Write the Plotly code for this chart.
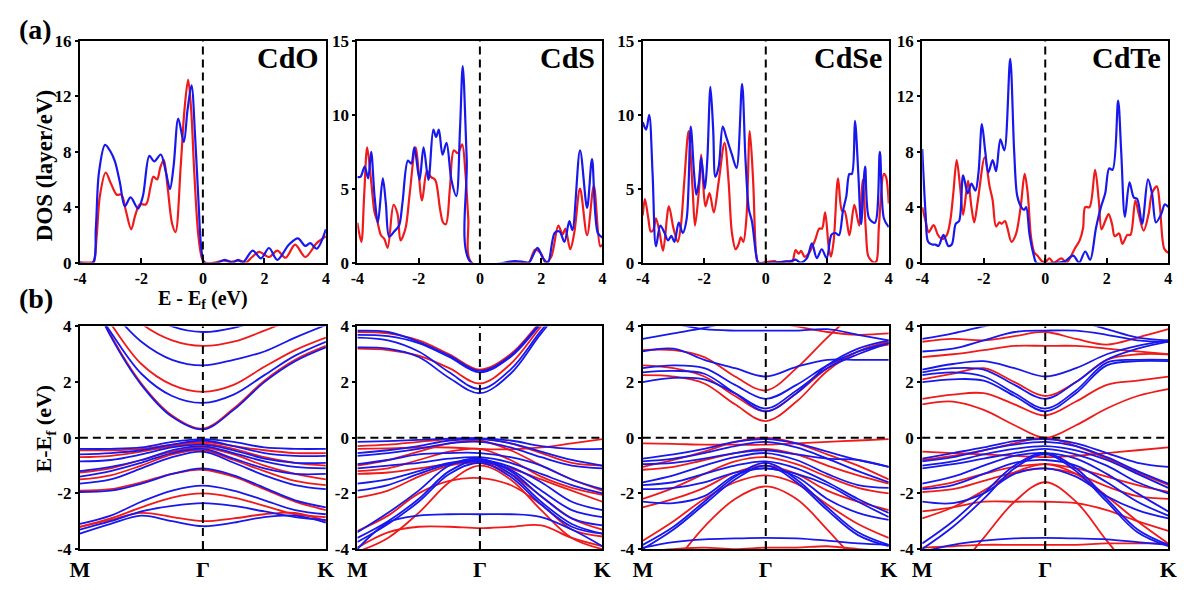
import plotly.graph_objects as go

# ---------------- DOS curves: (E - Ef [eV], DOS [layer/eV]) ----------------
cdo_dos_red = [(-4.0, 0), (-3.6, 0), (-3.55, 0.0), (-3.45, 2.0), (-3.35, 4.8), (-3.16, 6.5), (-2.99, 5.7),
               (-2.8, 4.9), (-2.65, 4.9), (-2.5, 3.7), (-2.33, 2.4), (-2.2, 3.4), (-2.05, 4.2), (-1.85, 4.2),
               (-1.7, 5.5), (-1.61, 6.2), (-1.49, 6.0), (-1.38, 6.9), (-1.27, 7.4), (-1.15, 5.5), (-1.0, 2.8),
               (-0.89, 2.2), (-0.72, 7.0), (-0.6, 11.0), (-0.48, 13.2), (-0.38, 11.0), (-0.28, 6.5),
               (-0.15, 2.0), (-0.03, 0.3), (0.05, 0.0), (0.4, 0.0), (0.66, 0.15), (0.9, 0.05), (1.2, 0.15),
               (1.4, 0.0), (1.6, 0.4), (1.83, 0.77), (2.15, 0.4), (2.42, 0.86), (2.69, 0.35), (3.0, 1.3),
               (3.33, 0.4), (3.7, 1.4), (4.0, 1.9)]
cdo_dos_blue = [(-4.0, 0), (-3.58, 0), (-3.48, 2.5), (-3.38, 6.5), (-3.18, 8.5), (-3.0, 8.0), (-2.86, 7.3),
                (-2.7, 5.8), (-2.54, 4.07), (-2.35, 4.7), (-2.11, 3.9), (-1.95, 4.8), (-1.74, 7.7),
                (-1.58, 7.3), (-1.37, 7.8), (-1.2, 6.5), (-1.07, 5.3), (-0.95, 7.0), (-0.8, 10.4),
                (-0.62, 8.7), (-0.5, 11.0), (-0.37, 12.8), (-0.25, 9.0), (-0.14, 4.3), (-0.05, 1.0),
                (0.05, 0.0), (0.5, 0.0), (0.71, 0.2), (0.98, 0.0), (1.14, 0.2), (1.3, 0.0), (1.62, 0.86),
                (1.89, 0.3), (2.15, 1.05), (2.42, 0.2), (2.8, 1.3), (3.09, 1.75), (3.33, 1.2), (3.49, 1.4),
                (3.7, 1.0), (4.0, 2.4)]

cds_dos_red = [(-4.0, 2.7), (-3.87, 1.4), (-3.78, 4.5), (-3.68, 7.8), (-3.55, 5.5), (-3.44, 3.4), (-3.35, 2.8),
               (-3.23, 1.85), (-3.12, 1.6), (-3.01, 1.0), (-2.82, 3.9), (-2.69, 3.3), (-2.59, 1.5),
               (-2.43, 2.3), (-2.29, 4.7), (-2.1, 7.8), (-1.89, 4.2), (-1.73, 6.2), (-1.6, 5.8), (-1.46, 5.6),
               (-1.3, 3.6), (-1.2, 2.7), (-1.11, 2.6), (-0.98, 5.0), (-0.85, 7.6), (-0.72, 7.4), (-0.58, 8.0),
               (-0.47, 6.0), (-0.38, 3.0), (-0.27, 0.0), (1.15, 0.0), (1.4, 0.05), (1.6, 0.0), (1.8, 0.87),
               (2.0, 0.6), (2.14, 0.0), (2.33, 0.4), (2.56, 2.5), (2.7, 1.9), (2.79, 2.3), (2.95, 0.9),
               (3.08, 2.0), (3.27, 5.0), (3.5, 1.85), (3.72, 5.2), (3.93, 1.1), (4.0, 1.2)]
cds_dos_blue = [(-4.0, 5.8), (-3.9, 5.8), (-3.76, 6.5), (-3.65, 5.7), (-3.55, 7.5), (-3.44, 4.5), (-3.33, 2.7),
                (-3.17, 5.7), (-3.07, 4.0), (-2.96, 1.75), (-2.8, 2.1), (-2.64, 2.5), (-2.53, 4.0),
                (-2.35, 6.9), (-2.24, 6.7), (-2.14, 7.8), (-1.97, 5.6), (-1.84, 7.8), (-1.68, 5.6),
                (-1.52, 9.0), (-1.43, 8.5), (-1.34, 9.0), (-1.22, 7.3), (-1.09, 8.1), (-0.93, 5.6),
                (-0.77, 4.5), (-0.65, 9.0), (-0.56, 13.3), (-0.43, 7.0), (-0.29, 0.0), (1.15, 0.1),
                (1.4, 0.05), (1.6, 0.0), (1.88, 1.0), (2.06, 0.3), (2.22, 0.0), (2.44, 2.0), (2.6, 2.1),
                (2.76, 1.4), (2.92, 2.8), (3.02, 2.2), (3.27, 7.6), (3.5, 3.7), (3.66, 7.0), (3.85, 2.0),
                (4.0, 1.7)]

cdse_dos_red = [(-4.0, 3.2), (-3.93, 4.3), (-3.82, 3.0), (-3.74, 2.1), (-3.66, 2.2), (-3.57, 3.0), (-3.45, 2.0),
                (-3.34, 0.8), (-3.15, 3.8), (-3.0, 2.3), (-2.86, 1.4), (-2.76, 2.5), (-2.65, 5.5),
                (-2.51, 8.9), (-2.38, 5.0), (-2.3, 2.5), (-2.17, 5.0), (-2.1, 7.3), (-2.04, 5.5),
                (-1.96, 3.8), (-1.83, 4.7), (-1.69, 3.4), (-1.53, 5.5), (-1.34, 8.1), (-1.21, 5.5),
                (-1.1, 2.0), (-0.98, 0.9), (-0.89, 1.2), (-0.81, 1.7), (-0.73, 1.4), (-0.63, 3.0),
                (-0.52, 8.9), (-0.41, 5.5), (-0.31, 0.5), (-0.25, 0.0), (0.28, 0.1), (0.4, 0.0), (0.7, 0.1),
                (0.85, 0.0), (0.97, 0.85), (1.07, 0.6), (1.15, 0.8), (1.26, 0.4), (1.39, 0.6), (1.6, 1.5),
                (1.74, 2.3), (1.83, 2.3), (1.93, 3.4), (2.05, 1.0), (2.12, 0.4), (2.21, 1.5), (2.35, 5.7),
                (2.48, 3.5), (2.56, 3.5), (2.72, 1.85), (2.88, 3.9), (3.04, 2.5), (3.15, 5.6), (3.26, 2.0),
                (3.34, 0.4), (3.52, 0.0), (3.6, 0.1), (3.68, 2.5), (3.84, 6.0), (3.91, 5.8), (4.0, 4.0)]
cdse_dos_blue = [(-4.0, 9.5), (-3.89, 9.0), (-3.79, 10.0), (-3.68, 6.0), (-3.57, 1.1), (-3.43, 2.5),
                 (-3.29, 2.0), (-3.18, 1.5), (-3.07, 1.8), (-2.97, 1.4), (-2.83, 2.7), (-2.7, 2.0),
                 (-2.57, 3.0), (-2.44, 9.2), (-2.33, 6.0), (-2.26, 4.6), (-2.17, 5.5), (-2.1, 7.1),
                 (-1.98, 5.0), (-1.9, 7.0), (-1.8, 11.9), (-1.71, 9.0), (-1.64, 5.8), (-1.53, 6.5),
                 (-1.4, 9.2), (-1.27, 8.4), (-1.1, 7.3), (-0.95, 6.4), (-0.77, 12.1), (-0.66, 7.0),
                 (-0.55, 3.6), (-0.45, 2.8), (-0.31, 0.5), (-0.24, 0.0), (0.17, 0.0), (0.81, 0.1),
                 (0.97, 0.2), (1.13, 0.0), (1.34, 0.3), (1.5, 1.3), (1.66, 0.3), (1.82, 0.9), (1.98, 0.3),
                 (2.14, 1.9), (2.27, 2.0), (2.38, 1.85), (2.51, 3.5), (2.62, 4.5), (2.72, 6.0), (2.8, 6.0),
                 (2.9, 9.6), (3.01, 6.0), (3.1, 2.6), (3.23, 6.5), (3.36, 3.0), (3.55, 2.7), (3.71, 7.5),
                 (3.84, 3.0), (4.0, 2.4)]

cdte_dos_red = [(-4.0, 4.0), (-3.89, 3.0), (-3.79, 2.2), (-3.63, 2.7), (-3.49, 2.0), (-3.36, 1.7), (-3.2, 2.0),
                (-3.09, 3.0), (-2.99, 5.0), (-2.88, 7.4), (-2.77, 5.5), (-2.67, 3.45), (-2.51, 5.9),
                (-2.4, 4.0), (-2.31, 2.9), (-2.19, 4.5), (-1.97, 7.6), (-1.81, 5.5), (-1.71, 4.5),
                (-1.6, 2.6), (-1.49, 2.9), (-1.42, 2.8), (-1.31, 3.0), (-1.23, 2.5), (-1.1, 1.5),
                (-0.96, 2.0), (-0.8, 4.0), (-0.67, 6.4), (-0.57, 5.0), (-0.46, 1.8), (-0.35, 0.7),
                (-0.25, 0.5), (-0.11, 0.1), (0.0, 0.05), (0.14, 0.3), (0.27, 0.0), (0.53, 0.3), (0.69, 0.0),
                (0.96, 1.0), (1.12, 1.6), (1.23, 2.5), (1.3, 4.0), (1.44, 4.0), (1.62, 6.7), (1.74, 4.5),
                (1.83, 2.4), (1.95, 3.0), (2.06, 3.5), (2.17, 2.8), (2.26, 1.9), (2.4, 2.1), (2.51, 1.35),
                (2.67, 2.0), (2.77, 2.0), (2.93, 4.5), (3.04, 3.5), (3.2, 2.3), (3.36, 3.5), (3.47, 5.0),
                (3.63, 5.5), (3.73, 4.0), (3.87, 1.0), (4.0, 0.7)]
cdte_dos_blue = [(-4.0, 8.2), (-3.89, 3.5), (-3.81, 1.5), (-3.68, 1.3), (-3.57, 1.3), (-3.47, 1.2), (-3.31, 2.0),
                 (-3.15, 1.2), (-3.04, 1.3), (-2.91, 2.8), (-2.8, 3.0), (-2.67, 6.3), (-2.52, 5.0),
                 (-2.4, 5.7), (-2.27, 5.2), (-2.17, 6.5), (-2.06, 10.0), (-1.95, 8.0), (-1.85, 6.5),
                 (-1.71, 7.4), (-1.6, 6.6), (-1.46, 8.9), (-1.33, 8.1), (-1.14, 14.7), (-1.01, 8.0),
                 (-0.91, 4.8), (-0.78, 4.0), (-0.69, 3.8), (-0.62, 4.0), (-0.51, 2.0), (-0.37, 0.5),
                 (-0.29, 0.0), (0.43, 0.0), (0.64, 0.1), (0.91, 0.5), (1.1, 0.0), (1.3, 0.8), (1.46, 0.2),
                 (1.65, 2.5), (1.81, 4.0), (1.95, 5.0), (2.08, 6.8), (2.19, 6.7), (2.37, 11.7), (2.47, 8.0),
                 (2.59, 3.3), (2.74, 5.8), (2.88, 4.7), (2.99, 4.6), (3.15, 2.8), (3.34, 6.0), (3.47, 5.0),
                 (3.6, 2.9), (3.77, 3.5), (3.89, 4.2), (4.0, 4.0)]

dos_ymax = [16, 15, 15, 16]
dos_yticks = [[0, 4, 8, 12, 16], [0, 5, 10, 15], [0, 5, 10, 15], [0, 4, 8, 12, 16]]
dos_xticks = [-4, -2, 0, 2, 4]

# ---------------- band energies (eV) sampled along M - Gamma - K ----------------
K_PATH = [0.0, 0.25, 0.5, 0.75, 1.0, 1.25, 1.5, 1.75, 2.0]
K_TICKS = [0.0, 1.0, 2.0]
K_LABELS = ["M", "Γ", "K"]
band_yticks = [-4, -2, 0, 2, 4]

cdo_bands_red = [
    [6.05, 3.7, 1.95, 0.8, 0.33, 1.05, 2.05, 2.8, 3.3],
    [5.7, 4.1, 2.65, 1.9, 1.65, 1.9, 2.55, 3.15, 3.6],
    [6.5, 5.2, 4.1, 3.5, 3.3, 3.45, 3.85, 4.3, 4.8],
    [-0.45, -0.45, -0.4, -0.25, -0.15, -0.3, -0.45, -0.55, -0.55],
    [-0.7, -0.65, -0.5, -0.3, -0.2, -0.4, -0.7, -0.9, -1.0],
    [-1.25, -1.1, -0.8, -0.5, -0.35, -0.6, -1.0, -1.3, -1.5],
    [-1.5, -1.35, -1.0, -0.6, -0.45, -0.8, -1.2, -1.55, -1.7],
    [-1.9, -1.85, -1.6, -1.3, -1.15, -1.4, -1.85, -2.3, -2.6],
    [-3.2, -2.9, -2.5, -2.15, -2.0, -2.15, -2.45, -2.75, -2.85],
    [-3.2, -2.95, -2.7, -2.85, -3.0, -2.9, -2.75, -2.7, -3.0],
]
cdo_bands_blue = [
    [6.0, 3.65, 1.9, 0.75, 0.3, 1.0, 2.0, 2.75, 3.25],
    [5.5, 3.8, 2.3, 1.5, 1.25, 1.55, 2.25, 2.95, 3.45],
    [6.0, 4.6, 3.45, 2.8, 2.6, 2.8, 3.1, 3.6, 4.05],
    [7.0, 5.8, 4.6, 4.0, 3.8, 3.95, 4.3, 4.8, 5.3],
    [-0.4, -0.4, -0.35, -0.15, -0.05, -0.15, -0.35, -0.4, -0.4],
    [-0.6, -0.55, -0.45, -0.25, -0.1, -0.3, -0.55, -0.65, -0.65],
    [-0.85, -0.8, -0.6, -0.35, -0.25, -0.45, -0.75, -0.9, -0.9],
    [-1.2, -1.05, -0.8, -0.45, -0.3, -0.55, -0.85, -1.05, -1.1],
    [-1.4, -1.2, -0.9, -0.55, -0.4, -0.75, -1.1, -1.3, -1.3],
    [-1.65, -1.5, -1.1, -0.7, -0.5, -0.9, -1.35, -1.7, -1.85],
    [-1.95, -1.9, -1.65, -1.3, -1.1, -1.35, -1.8, -2.25, -2.5],
    [-3.1, -2.8, -2.3, -1.9, -1.72, -1.9, -2.25, -2.6, -2.75],
    [-3.3, -3.0, -2.65, -2.45, -2.35, -2.45, -2.65, -2.85, -2.95],
    [-3.45, -3.1, -2.8, -3.0, -3.18, -3.05, -2.85, -2.8, -3.05],
]

cds_bands_red = [
    [3.2, 3.15, 2.95, 2.5, 1.95, 2.65, 4.0, 5.2, 6.0],
    [3.8, 3.75, 3.5, 3.0, 2.45, 3.0, 4.2, 5.4, 6.1],
    [-0.3, -0.25, -0.15, -0.05, -0.02, -0.2, -0.55, -0.9, -1.0],
    [-0.4, -0.38, -0.35, -0.35, -0.4, -0.42, -0.35, -0.2, -0.05],
    [-1.0, -0.8, -0.5, -0.2, -0.1, -0.45, -1.0, -1.5, -1.9],
    [-1.2, -1.1, -0.8, -0.5, -0.4, -0.8, -1.4, -1.8, -2.05],
    [-1.3, -1.25, -1.1, -0.95, -0.9, -1.1, -1.5, -1.9, -2.3],
    [-2.15, -1.9, -1.4, -1.0, -0.9, -1.3, -2.1, -2.9, -3.3],
    [-3.35, -2.8, -2.0, -1.55, -1.45, -1.7, -2.4, -3.3, -3.55],
    [-3.95, -3.4, -3.2, -3.2, -3.25, -3.2, -3.15, -3.6, -3.9],
    [-4.1, -3.6, -2.7, -1.6, -1.0, -1.5, -2.6, -3.6, -4.0],
]
cds_bands_blue = [
    [3.25, 3.2, 2.9, 2.15, 1.6, 2.3, 3.75, 5.0, 5.8],
    [3.6, 3.5, 3.1, 2.35, 1.75, 2.45, 3.85, 5.1, 5.9],
    [3.7, 3.65, 3.4, 2.9, 2.35, 2.9, 4.1, 5.3, 6.0],
    [3.85, 3.8, 3.45, 2.95, 2.4, 2.95, 4.15, 5.3, 6.0],
    [-0.15, -0.12, -0.08, -0.03, -0.02, -0.1, -0.3, -0.4, -0.4],
    [-0.55, -0.45, -0.3, -0.1, -0.05, -0.2, -0.5, -0.8, -1.0],
    [-0.65, -0.55, -0.4, -0.2, -0.15, -0.35, -0.7, -1.0, -1.1],
    [-0.95, -0.8, -0.6, -0.55, -0.55, -0.7, -1.0, -1.5, -1.85],
    [-1.1, -1.0, -0.9, -0.75, -0.7, -0.9, -1.3, -1.7, -2.0],
    [-1.65, -1.5, -1.2, -0.9, -0.8, -1.05, -1.6, -2.3, -2.6],
    [-1.9, -1.7, -1.3, -0.95, -0.85, -1.15, -1.9, -2.6, -2.85],
    [-3.4, -2.7, -1.9, -1.0, -0.75, -1.2, -2.1, -2.9, -3.15],
    [-3.6, -3.0, -2.2, -1.2, -0.8, -1.3, -2.3, -3.1, -3.45],
    [-3.75, -3.1, -2.3, -1.3, -0.9, -1.4, -2.4, -3.2, -3.45],
    [-4.0, -3.05, -2.8, -2.75, -2.75, -2.75, -2.85, -3.3, -3.9],
]

cdse_bands_red = [
    [2.25, 2.2, 1.95, 1.2, 0.6, 1.3, 2.4, 3.1, 3.45],
    [2.6, 2.5, 2.2, 1.5, 0.95, 1.6, 2.5, 3.1, 3.35],
    [3.15, 3.15, 2.9, 2.2, 1.7, 2.5, 3.6, 4.6, 5.5],
    [5.0, 4.8, 4.5, 4.3, 4.2, 4.0, 3.8, 3.7, 3.75],
    [-0.2, -0.22, -0.25, -0.25, -0.25, -0.2, -0.15, -0.1, -0.05],
    [-1.05, -0.8, -0.5, -0.15, 0.0, -0.2, -0.6, -1.0, -1.5],
    [-1.15, -1.05, -0.8, -0.55, -0.4, -0.6, -1.0, -1.35, -1.65],
    [-2.2, -1.8, -1.3, -0.85, -0.7, -0.95, -1.4, -1.8, -2.0],
    [-2.5, -2.2, -1.8, -1.25, -1.0, -1.3, -1.9, -2.3, -2.6],
    [-3.7, -3.0, -2.2, -1.6, -1.35, -1.65, -2.4, -3.1, -3.6],
    [-5.5, -4.5, -3.2, -2.2, -1.75, -2.2, -3.3, -4.5, -5.5],
    [-4.1, -4.0, -3.95, -4.0, -3.95, -3.95, -3.9, -4.0, -4.05],
]
cdse_bands_blue = [
    [2.0, 2.15, 2.1, 1.6, 1.05, 1.7, 2.5, 3.0, 3.4],
    [2.35, 2.4, 2.3, 1.6, 0.95, 1.6, 2.6, 3.2, 3.5],
    [2.5, 2.6, 2.5, 1.9, 1.4, 1.9, 2.6, 3.1, 3.4],
    [3.1, 3.2, 2.8, 2.5, 2.2, 2.55, 2.8, 2.8, 2.8],
    [3.55, 3.75, 3.95, 4.2, 4.4, 4.4, 4.3, 4.2, 4.2],
    [4.3, 4.1, 3.9, 3.85, 3.85, 3.85, 3.9, 3.7, 3.5],
    [-0.75, -0.6, -0.4, -0.15, -0.05, -0.2, -0.5, -0.8, -1.05],
    [-0.85, -0.75, -0.55, -0.3, -0.15, -0.35, -0.75, -1.2, -1.6],
    [-0.95, -0.9, -0.75, -0.55, -0.45, -0.6, -0.75, -0.8, -1.05],
    [-1.6, -1.35, -1.0, -0.7, -0.55, -0.8, -1.3, -1.7, -1.8],
    [-1.7, -1.6, -1.3, -1.0, -0.85, -1.1, -1.6, -2.2, -2.7],
    [-1.85, -1.8, -1.6, -1.25, -1.1, -1.3, -1.7, -2.3, -2.85],
    [-2.3, -2.35, -2.1, -1.35, -1.1, -1.4, -2.2, -2.7, -2.95],
    [-3.85, -3.2, -2.3, -1.4, -0.9, -1.5, -2.5, -3.4, -3.85],
    [-4.0, -3.3, -2.4, -1.5, -1.0, -1.6, -2.6, -3.5, -3.9],
    [-3.95, -3.75, -3.65, -3.62, -3.6, -3.62, -3.7, -3.8, -3.85],
]

cdte_bands_red = [
    [1.2, 1.3, 1.0, 0.45, 0.0, 0.45, 1.05, 1.5, 1.75],
    [1.4, 1.55, 1.6, 1.2, 0.8, 1.3, 1.9, 2.05, 2.2],
    [2.1, 2.3, 2.5, 2.0, 1.5, 2.0, 2.8, 3.0, 3.0],
    [2.9, 3.0, 3.15, 3.3, 3.3, 3.3, 3.2, 3.1, 3.0],
    [3.45, 3.55, 3.5, 3.65, 3.8, 3.55, 3.35, 3.6, 3.9],
    [-0.5, -0.55, -0.6, -0.65, -0.7, -0.65, -0.55, -0.45, -0.35],
    [-0.8, -0.65, -0.45, -0.2, 0.0, -0.3, -0.75, -1.25, -1.7],
    [-1.8, -1.6, -1.3, -1.05, -0.95, -1.1, -1.4, -1.7, -1.95],
    [-1.95, -1.85, -1.55, -1.25, -1.1, -1.3, -1.75, -2.1, -2.2],
    [-2.65, -2.5, -2.3, -2.3, -2.3, -2.35, -2.6, -3.0, -3.35],
    [-2.9, -2.5, -1.9, -1.25, -0.95, -1.3, -2.1, -3.0, -3.8],
    [-6.0, -4.9, -3.6, -2.3, -1.6, -2.3, -3.7, -5.0, -6.0],
    [-3.95, -3.9, -3.85, -3.85, -3.85, -3.85, -3.8, -3.8, -3.8],
]
cdte_bands_blue = [
    [2.0, 2.1, 2.05, 1.5, 0.95, 1.6, 2.6, 2.75, 2.75],
    [2.25, 2.35, 2.2, 1.6, 1.05, 1.7, 2.7, 2.8, 2.8],
    [2.35, 2.5, 2.45, 1.9, 1.4, 2.0, 2.8, 3.2, 3.45],
    [2.45, 2.65, 2.75, 2.5, 2.2, 2.5, 3.0, 3.3, 3.5],
    [3.1, 3.2, 3.5, 3.8, 3.85, 3.85, 3.7, 3.5, 3.45],
    [3.55, 3.75, 4.0, 4.2, 4.3, 4.2, 3.9, 3.6, 3.5],
    [-0.75, -0.55, -0.35, -0.12, -0.05, -0.2, -0.55, -0.9, -1.05],
    [-0.85, -0.7, -0.45, -0.25, -0.15, -0.3, -0.7, -1.2, -1.65],
    [-1.0, -0.85, -0.6, -0.4, -0.3, -0.45, -0.8, -1.3, -1.8],
    [-1.1, -0.95, -0.75, -0.55, -0.4, -0.6, -1.0, -1.6, -2.0],
    [-1.65, -1.4, -1.0, -0.65, -0.55, -0.75, -1.3, -2.0, -2.65],
    [-1.85, -1.7, -1.3, -0.9, -0.8, -1.0, -1.6, -2.3, -2.8],
    [-2.3, -2.35, -2.0, -1.3, -1.1, -1.4, -2.1, -2.6, -2.9],
    [-3.8, -3.0, -2.0, -1.0, -0.55, -1.1, -2.2, -3.3, -3.85],
    [-4.0, -3.2, -2.2, -1.1, -0.6, -1.2, -2.3, -3.4, -3.9],
    [-4.1, -3.85, -3.7, -3.62, -3.6, -3.62, -3.65, -3.75, -3.85],
]

materials = ["CdO", "CdS", "CdSe", "CdTe"]
dos_sets = [(cdo_dos_red, cdo_dos_blue), (cds_dos_red, cds_dos_blue),
            (cdse_dos_red, cdse_dos_blue), (cdte_dos_red, cdte_dos_blue)]
band_sets = [(cdo_bands_red, cdo_bands_blue), (cds_bands_red, cds_bands_blue),
             (cdse_bands_red, cdse_bands_blue), (cdte_bands_red, cdte_bands_blue)]

RED = "#f01a1a"
BLUE = "#1818ee"
FONT = "Liberation Serif"

# ---------------- page geometry (pixels) ----------------
W, H = 1193, 590
col_px = [(71, 321), (353, 602), (643, 893), (927, 1177)]
row_px = [(33, 262), (328, 558)]


def xdom(c):
    return [c[0] / W, c[1] / W]


def ydom(r):
    return [1 - r[1] / H, 1 - r[0] / H]


def ax_suffix(n):
    return "" if n == 1 else str(n)


def hyphen_labels(vals):
    # plain ASCII hyphen for negative tick labels
    return [str(v) for v in vals]


fig = go.Figure()

# DOS panels (axes 1-4)
for i, (red, blue) in enumerate(dos_sets):
    n = i + 1
    for pts, col in ((red, RED), (blue, BLUE)):
        fig.add_trace(go.Scatter(
            x=[p[0] for p in pts], y=[p[1] for p in pts], mode="lines",
            line=dict(color=col, width=2.2, shape="spline", smoothing=0.9),
            xaxis="x" + ax_suffix(n), yaxis="y" + ax_suffix(n),
            showlegend=False, hoverinfo="skip"))

# band-structure panels (axes 5-8)
for i, (red, blue) in enumerate(band_sets):
    n = i + 5
    for bands, col in ((red, RED), (blue, BLUE)):
        for b in bands:
            fig.add_trace(go.Scatter(
                x=K_PATH, y=b, mode="lines",
                line=dict(color=col, width=1.8, shape="spline", smoothing=1.0),
                xaxis="x" + ax_suffix(n), yaxis="y" + ax_suffix(n),
                showlegend=False, hoverinfo="skip"))

tickfont = dict(family=FONT, size=17, color="black", weight="bold")
axis_common = dict(showline=True, mirror=True, linecolor="black", linewidth=2,
                   tickwidth=1.5, tickcolor="black",
                   showgrid=False, zeroline=False, tickfont=tickfont)

layout = dict(width=W, height=H, margin=dict(l=0, r=0, t=0, b=0),
              paper_bgcolor="white", plot_bgcolor="white", showlegend=False)
shapes = []
annotations = []
DASH = "8px,5px"

for i in range(4):
    n = i + 1
    s = ax_suffix(n)
    layout["xaxis" + s] = dict(axis_common, domain=xdom(col_px[i]), range=[-4, 4],
                               tickvals=dos_xticks, ticktext=hyphen_labels(dos_xticks),
                               ticks="inside", ticklen=5, anchor="y" + s,
                               tickfont=dict(tickfont, size=16))
    layout["yaxis" + s] = dict(axis_common, domain=ydom(row_px[0]), range=[0, dos_ymax[i]],
                               tickvals=dos_yticks[i], ticktext=hyphen_labels(dos_yticks[i]),
                               ticks="outside", ticklen=3, anchor="x" + s)
    shapes.append(dict(type="line", xref="x" + s, yref="y" + s + " domain",
                       x0=0, x1=0, y0=0, y1=1,
                       line=dict(color="black", width=2, dash=DASH)))
    annotations.append(dict(text=materials[i], xref="paper", yref="paper",
                            x=(col_px[i][1] - 5) / W, y=1 - 50 / H,
                            xanchor="right", yanchor="middle", showarrow=False,
                            font=dict(family=FONT, size=30, color="black", weight="bold")))

for i in range(4):
    n = i + 5
    s = ax_suffix(n)
    layout["xaxis" + s] = dict(axis_common, domain=xdom(col_px[i]), range=[0, 2],
                               tickvals=K_TICKS, ticktext=K_LABELS, anchor="y" + s,
                               ticks="inside", ticklen=7,
                               tickfont=dict(tickfont, size=22))
    layout["yaxis" + s] = dict(axis_common, domain=ydom(row_px[1]), range=[-4, 4],
                               tickvals=band_yticks, ticktext=hyphen_labels(band_yticks),
                               ticks="outside", ticklen=3, anchor="x" + s)
    shapes.append(dict(type="line", xref="x" + s, yref="y" + s + " domain",
                       x0=1, x1=1, y0=0, y1=1,
                       line=dict(color="black", width=2, dash=DASH)))
    shapes.append(dict(type="line", xref="x" + s + " domain", yref="y" + s,
                       x0=0, x1=1, y0=0, y1=0,
                       line=dict(color="black", width=2, dash=DASH)))

label_font = dict(family=FONT, size=21, color="black", weight="bold")
annotations += [
    dict(text="(a)", xref="paper", yref="paper", x=26 / W, y=1 - 21 / H,
         xanchor="center", yanchor="middle", showarrow=False,
         font=dict(family=FONT, size=28, color="black", weight="bold")),
    dict(text="(b)", xref="paper", yref="paper", x=26 / W, y=1 - 299 / H,
         xanchor="center", yanchor="middle", showarrow=False,
         font=dict(family=FONT, size=28, color="black", weight="bold")),
    dict(text="DOS (layer/eV)", xref="paper", yref="paper", x=35 / W, y=1 - 162 / H,
         xanchor="center", yanchor="middle", textangle=-90, showarrow=False,
         font=dict(label_font, size=23)),
    dict(text="E - E<sub>f</sub> (eV)", xref="paper", yref="paper", x=196 / W, y=1 - 300 / H,
         xanchor="center", yanchor="middle", showarrow=False, font=dict(label_font, size=20)),
    dict(text="E-E<sub>f</sub> (eV)", xref="paper", yref="paper", x=36 / W, y=1 - 433 / H,
         xanchor="center", yanchor="middle", textangle=-90, showarrow=False,
         font=dict(label_font, size=22)),
]

layout["shapes"] = shapes
layout["annotations"] = annotations
fig.update_layout(**layout)

fig.write_html("out.html")
